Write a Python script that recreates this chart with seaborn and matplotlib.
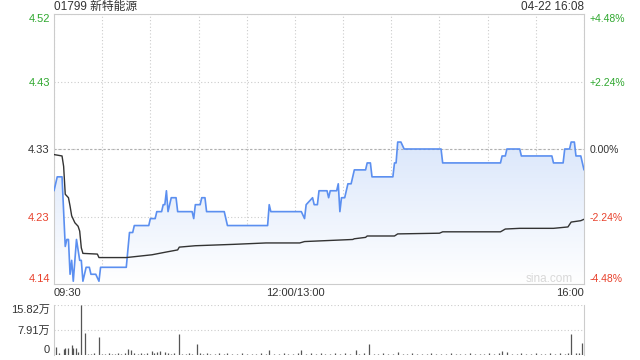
import numpy as np
import pandas as pd
import seaborn as sns
import matplotlib
matplotlib.use('Agg')
import matplotlib.pyplot as plt
from matplotlib.colors import LinearSegmentedColormap
from matplotlib.patches import PathPatch

# 分时数据 (分钟序号: 0 = 09:30, 150 = 12:00/13:00, 330 = 16:00)
price_min = [0, 2, 5, 7, 8, 9, 10, 11, 12, 14, 16, 17, 18, 20, 22, 23, 26, 28, 29, 42, 43, 45,
             47, 49, 50, 59, 60, 63, 64, 67, 68, 69, 70, 71, 73, 76, 77, 86, 87, 88, 91, 92, 94,
             95, 106, 108, 133, 134, 135, 154, 156, 157, 161, 162, 164, 165, 170, 171, 172, 176,
             177, 178, 179, 181, 183, 185, 187, 194, 195, 197, 198, 211, 212, 213, 214, 216, 218,
             241, 242, 278, 279, 281, 282, 290, 291, 310, 311, 317, 318, 321, 322, 324, 325, 328, 330]
price = [4.27, 4.29, 4.29, 4.19, 4.20, 4.20, 4.15, 4.17, 4.14, 4.20, 4.17, 4.17, 4.14, 4.16, 4.16, 4.15,
         4.15, 4.14, 4.16, 4.16, 4.16, 4.16, 4.21, 4.21, 4.22, 4.22, 4.23, 4.23, 4.24, 4.24, 4.25, 4.25,
         4.27, 4.24, 4.26, 4.26, 4.24, 4.24, 4.23, 4.25, 4.25, 4.26, 4.26, 4.24, 4.24, 4.22, 4.22, 4.25,
         4.24, 4.24, 4.23, 4.25, 4.26, 4.25, 4.25, 4.27, 4.27, 4.26, 4.27, 4.27, 4.28, 4.24, 4.26, 4.26,
         4.28, 4.28, 4.30, 4.30, 4.31, 4.31, 4.29, 4.29, 4.31, 4.31, 4.34, 4.34, 4.33, 4.33, 4.31, 4.31,
         4.32, 4.32, 4.33, 4.33, 4.32, 4.32, 4.31, 4.31, 4.33, 4.33, 4.34, 4.34, 4.32, 4.32, 4.30]

avg_min = [0, 5, 6, 7, 9, 10, 11, 13, 15, 16, 17, 18, 27, 28, 45, 61, 70, 77, 78, 88, 112, 132,
           153, 156, 166, 186, 187, 194, 195, 212, 214, 240, 242, 278, 281, 290, 311, 320, 322, 328, 330]
avg_price = [4.322, 4.320, 4.305, 4.265, 4.260, 4.248, 4.234, 4.224, 4.219, 4.212, 4.188, 4.180,
             4.179, 4.174, 4.174, 4.178, 4.182, 4.185, 4.189, 4.191, 4.193, 4.195, 4.195, 4.197,
             4.198, 4.200, 4.201, 4.203, 4.205, 4.205, 4.208, 4.209, 4.211, 4.211, 4.215, 4.216,
             4.216, 4.218, 4.225, 4.227, 4.229]

vol_min = [1, 3, 6, 7, 9, 11, 12, 14, 15, 17, 19, 21, 23, 25, 28, 30, 32, 34, 36, 38, 40, 42, 44, 46,
           48, 50, 52, 54, 56, 58, 61, 62, 64, 66, 69, 71, 73, 75, 78, 80, 82, 84, 86, 89, 91, 93, 95,
           97, 100, 103, 106, 108, 111, 114, 117, 120, 123, 126, 129, 132, 134, 137, 140, 143, 146,
           149, 152, 154, 157, 160, 163, 166, 169, 172, 175, 178, 181, 184, 188, 190, 193, 196, 199,
           202, 205, 208, 211, 214, 217, 220, 223, 226, 229, 232, 235, 238, 241, 244, 247, 250, 253,
           256, 259, 262, 265, 268, 271, 274, 277, 279, 282, 285, 288, 291, 294, 297, 300, 303, 306,
           309, 312, 315, 318, 320, 322, 325, 327, 329]
vol = [2.6, 0.5, 1.8, 2.3, 2.1, 3.2, 2.3, 2.1, 1.0, 15.8, 6.9, 0.4, 0.3, 0.5, 5.8, 0.4, 0.3, 0.5, 0.3,
       0.4, 0.6, 0.4, 0.5, 1.8, 1.6, 0.6, 0.4, 0.5, 0.3, 0.6, 1.3, 0.5, 1.0, 1.3, 1.0, 0.6, 0.4, 0.5,
       6.5, 0.4, 0.3, 0.5, 0.4, 3.4, 0.5, 0.4, 0.6, 0.3, 0.4, 0.5, 0.3, 0.6, 0.4, 0.3, 0.5, 0.4, 0.3,
       0.4, 0.5, 0.3, 1.6, 0.4, 0.3, 0.5, 0.4, 0.3, 0.5, 1.6, 0.4, 0.6, 0.4, 0.5, 0.3, 0.4, 0.6, 0.4,
       0.5, 0.3, 1.6, 0.4, 0.5, 3.5, 0.4, 0.3, 0.5, 0.4, 0.3, 0.8, 0.4, 0.3, 0.5, 0.4, 0.3, 0.4, 0.5,
       0.3, 0.4, 0.3, 0.5, 0.4, 0.3, 0.4, 0.5, 0.3, 0.4, 0.3, 0.5, 0.4, 0.6, 1.3, 1.0, 0.4, 0.3, 0.5,
       0.4, 0.3, 0.5, 0.4, 0.3, 0.5, 0.4, 0.6, 0.4, 0.5, 6.6, 0.5, 0.6, 3.9]

prev_close = 4.33
pct_ticks = [4.48, 2.24, 0.0, -2.24, -4.48]
pct_labels = ['+4.48%', '+2.24%', '0.00%', '-2.24%', '-4.48%']
price_labels = ['4.52', '4.43', '4.33', '4.23', '4.14']
tick_colors = ['#2fa82f', '#2fa82f', '#333333', '#e8412c', '#e8412c']
x_ticks = [0, 150, 330]
x_labels = ['09:30', '12:00/13:00', '16:00']
vol_ticks = [0, 7.91, 15.82]
vol_labels = ['0', '7.91万', '15.82万']

sns.set_style('white')
plt.rcParams['font.family'] = ['Liberation Sans', 'Noto Sans CJK SC', 'DejaVu Sans']

fig = plt.figure(figsize=(6.4, 3.6), dpi=100)
ax = fig.add_axes([54 / 640, 76 / 360, 530 / 640, 270 / 360])
axv = fig.add_axes([54 / 640, 5 / 360, 530 / 640, 50 / 360])

price_levels = [prev_close * (1 + p / 100) for p in pct_ticks]
ymax, ymin = price_levels[0], price_levels[-1]

df_price = pd.DataFrame({'minute': price_min, 'price': price})
df_avg = pd.DataFrame({'minute': avg_min, 'price': avg_price})

# 渐变填充
fill = ax.fill_between(price_min, price, ymin, color='none', lw=0)
cmap = LinearSegmentedColormap.from_list('fade', ['#ffffff', '#dbe7fb'])
grad = np.linspace(0, 1, 256).reshape(-1, 1)
im = ax.imshow(grad, extent=[0, 330, ymin, max(price)], origin='lower', aspect='auto',
               cmap=cmap, zorder=1)
clip = PathPatch(fill.get_paths()[0], transform=ax.transData, facecolor='none', edgecolor='none')
ax.add_patch(clip)
im.set_clip_path(clip)

sns.lineplot(data=df_price, x='minute', y='price', ax=ax, color='#5b8ff0', linewidth=1.2,
             estimator=None, sort=False, zorder=3)
sns.lineplot(data=df_avg, x='minute', y='price', ax=ax, color='#333333', linewidth=1.0,
             estimator=None, sort=False, zorder=3)

ax.set_xlim(0, 330)
ax.set_ylim(ymin, ymax)
ax.set_xlabel('')
ax.set_ylabel('')
ax.set_yticks(price_levels, price_labels, fontsize=8)
ax.set_xticks(x_ticks, x_labels, fontsize=8)
ax.set_xticks(range(30, 330, 30), minor=True)
ax.tick_params(axis='both', which='both', length=0)
ax.tick_params(axis='y', pad=3)
ax.tick_params(axis='x', pad=3)
ax.grid(axis='x', which='both', color='#cccccc', linestyle=(0, (1, 2)), linewidth=0.8)
ax.grid(axis='y', which='major', color='#cccccc', linestyle=(0, (1, 2)), linewidth=0.8)
ax.axhline(prev_close, color='#b0b0b0', linestyle=(0, (2, 2)), linewidth=0.8, zorder=2)
for lab, c in zip(ax.get_yticklabels(), tick_colors):
    lab.set_color(c)
ax.get_yticklabels()[0].set_va('top')
ax.get_yticklabels()[-1].set_va('bottom')
xl = ax.get_xticklabels()
xl[0].set_ha('left')
xl[-1].set_ha('right')
for lab in xl:
    lab.set_color('#333333')
for s in ax.spines.values():
    s.set_color('#cccccc')
    s.set_linewidth(0.8)

axr = ax.twinx()
axr.set_ylim(ymin, ymax)
axr.set_yticks(price_levels, pct_labels, fontsize=7.5)
axr.tick_params(axis='y', length=0, pad=4)
for lab, c in zip(axr.get_yticklabels(), tick_colors):
    lab.set_color(c)
axr.get_yticklabels()[0].set_va('top')
axr.get_yticklabels()[-1].set_va('bottom')
for s in axr.spines.values():
    s.set_visible(False)

ax.text((573 - 54) / 530, (284 - 279) / 270, 'sina.com', transform=ax.transAxes,
        color='#d8d8d8', fontsize=8.5, ha='right', va='center', zorder=4)

# 成交量
axv.vlines(vol_min, 0, vol, color='#555555', linewidth=0.9)
axv.set_xlim(0, 330)
axv.set_ylim(0, 15.82)
axv.set_xticks([])
axv.set_yticks(vol_ticks, vol_labels, fontsize=8, color='#333333')
axv.tick_params(axis='y', length=0, pad=3)
axv.get_yticklabels()[0].set_va('bottom')
axv.get_yticklabels()[-1].set_va('top')
axv.grid(axis='y', color='#cccccc', linestyle=(0, (1, 2)), linewidth=0.8)
axv.grid(axis='x', visible=False)
for side in ['top', 'bottom']:
    axv.spines[side].set_visible(False)
for side in ['left', 'right']:
    axv.spines[side].set_color('#cccccc')
    axv.spines[side].set_linewidth(0.8)

fig.text(54 / 640, 1 - 7 / 360, '01799 新特能源', fontsize=8.5, color='#333333', ha='left', va='center')
fig.text(584 / 640, 1 - 7 / 360, '04-22 16:08', fontsize=8.5, color='#333333', ha='right', va='center')

fig.savefig('out.png', dpi=100)
